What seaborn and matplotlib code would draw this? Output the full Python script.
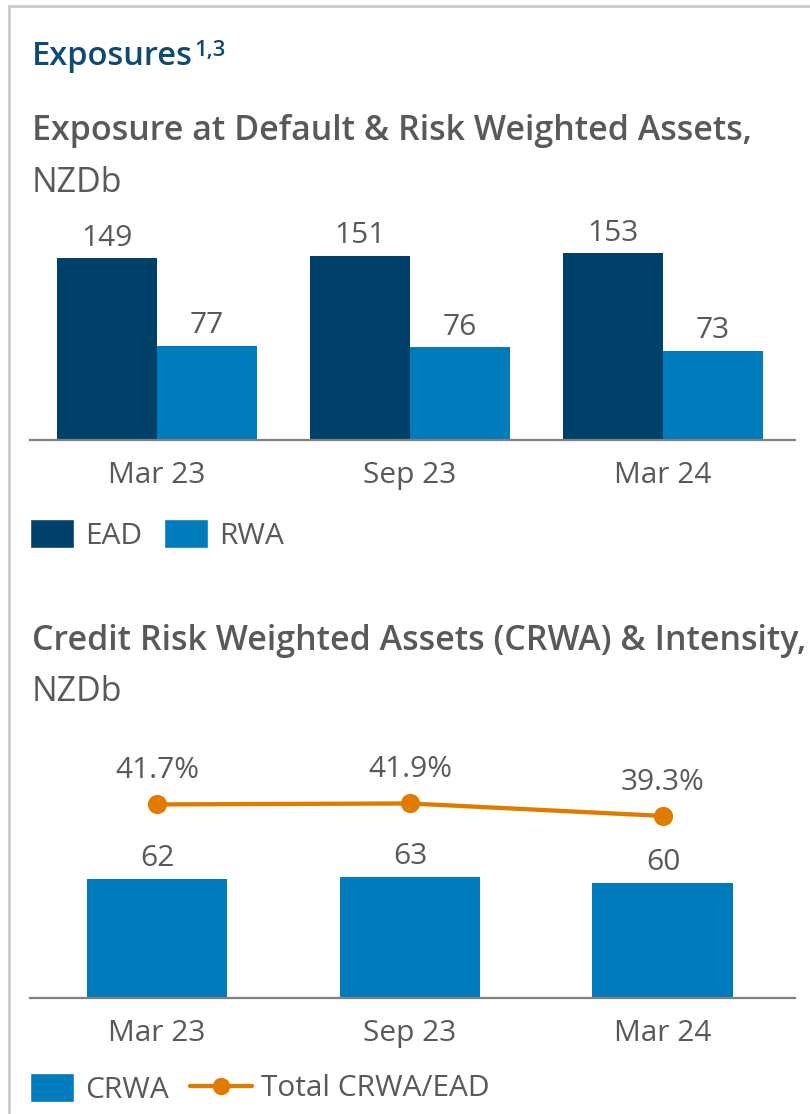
import matplotlib
matplotlib.use("Agg")
import matplotlib.pyplot as plt
import seaborn as sns
import pandas as pd
from matplotlib.patches import Patch, Rectangle
from matplotlib.lines import Line2D

# ---- data (NZD billions) ----
periods = ["Mar 23", "Sep 23", "Mar 24"]
ead = [149, 151, 153]
rwa = [77, 76, 73]
crwa = [62, 63, 60]
intensity = [41.7, 41.9, 39.3]   # Total CRWA / EAD, %

# ---- styling ----
NAVY = "#00416a"
BLUE = "#007bbb"
ORANGE = "#e07b00"
GREY_TXT = "#595959"
TITLE_BLUE = "#0f4a70"
AXIS_GREY = "#808080"
FS = 21.5
FS_SUB = 24.5

W, H = 810, 1114
sns.set_theme(style="white")
plt.rcParams["font.family"] = ["Open Sans", "DejaVu Sans"]

fig = plt.figure(figsize=(W / 100, H / 100), dpi=100)


def fx(px):
    return px / W


def fy(py):
    return 1 - py / H


# card frame
fig.add_artist(Rectangle((fx(8.5), fy(H + 20)), 2, fy(5.5) - fy(H + 20),
                         transform=fig.transFigure, fill=False,
                         edgecolor="#c9c9c9", lw=2))

# ---- headings ----
t = fig.text(fx(32), fy(65), "Exposures", fontsize=23.5, fontweight="semibold",
             color=TITLE_BLUE, va="baseline")
r = fig.canvas.get_renderer()
bb = t.get_window_extent(renderer=r)
fig.text(bb.x1 / W + 0.002, fy(56), "1,3", fontsize=16, fontweight="semibold",
         color=TITLE_BLUE, va="baseline")

fig.text(fx(32), fy(140), "Exposure at Default & Risk Weighted Assets,",
         fontsize=FS_SUB, fontweight="semibold", color=GREY_TXT, va="baseline")
fig.text(fx(32), fy(192), "NZDb", fontsize=FS_SUB, color=GREY_TXT, va="baseline")

fig.text(fx(32), fy(650), "Credit Risk Weighted Assets (CRWA) & Intensity,",
         fontsize=FS_SUB, fontweight="semibold", color=GREY_TXT, va="baseline")
fig.text(fx(32), fy(701), "NZDb", fontsize=FS_SUB, color=GREY_TXT, va="baseline")


def style_axis(ax):
    for s in ("top", "right", "left"):
        ax.spines[s].set_visible(False)
    ax.spines["bottom"].set_color(AXIS_GREY)
    ax.spines["bottom"].set_linewidth(1.6)
    ax.set_yticks([])
    ax.set_xlabel("")
    ax.set_ylabel("")
    ax.tick_params(axis="x", length=0, pad=15, labelsize=FS, labelcolor=GREY_TXT)
    ax.set_facecolor("none")


XLIM = (-0.502, 2.522)

# ---- chart 1: EAD & RWA ----
k1, top1 = 1.221, 180
ax1 = fig.add_axes([fx(30), fy(440), fx(795) - fx(30), top1 * k1 / H])
df1 = pd.DataFrame({
    "period": periods * 2,
    "series": ["EAD"] * len(periods) + ["RWA"] * len(periods),
    "value": ead + rwa,
})
sns.barplot(data=df1, x="period", y="value", hue="series",
            palette=[NAVY, BLUE], width=0.79, saturation=1, linewidth=0,
            errorbar=None, legend=False, ax=ax1)
ax1.set_xlim(*XLIM)
ax1.set_ylim(0, top1)
style_axis(ax1)
for c in ax1.containers:
    ax1.bar_label(c, fmt="%d", padding=4, fontsize=FS, color=GREY_TXT)

ax1.legend(handles=[Patch(facecolor=NAVY), Patch(facecolor=BLUE)],
           labels=["EAD", "RWA"], loc="center left",
           bbox_to_anchor=(fx(30), fy(535)), bbox_transform=fig.transFigure,
           ncol=2, frameon=False, handlelength=1.47, handleheight=1.1,
           handletextpad=0.36, columnspacing=0.75, borderpad=0,
           borderaxespad=0, fontsize=FS, labelcolor=GREY_TXT)

# ---- chart 2: CRWA & intensity ----
k2, top2 = 1.92, 134.4
ax2 = fig.add_axes([fx(30), fy(998), fx(795) - fx(30), top2 * k2 / H])
sns.barplot(x=periods, y=crwa, color=BLUE, width=0.557, saturation=1,
            linewidth=0, errorbar=None, ax=ax2)
ax2.set_ylim(0, top2)
style_axis(ax2)
for c in ax2.containers:
    ax2.bar_label(c, fmt="%d", padding=4, fontsize=FS, color=GREY_TXT)

ax3 = ax2.twinx()
sns.pointplot(x=periods, y=intensity, color=ORANGE, markers="o",
              markersize=11.5, linewidth=3.1, errorbar=None, ax=ax3)
ax3.set_ylim(1.38, 55.13)
ax3.set_yticks([])
ax3.set_ylabel("")
for s in ax3.spines.values():
    s.set_visible(False)
for i, v in enumerate(intensity):
    ax3.annotate(f"{v:.1f}%", (i, v), xytext=(0, 19), textcoords="offset points",
                 ha="center", va="baseline", fontsize=FS, color=GREY_TXT)
ax2.set_xlim(*XLIM)
ax3.set_xlim(*XLIM)

leg_a = ax3.legend(handles=[Patch(facecolor=BLUE)], labels=["CRWA"],
                   loc="center left", bbox_to_anchor=(fx(30), fy(1089)),
                   bbox_transform=fig.transFigure, frameon=False,
                   handlelength=1.47, handleheight=1.1, handletextpad=0.36,
                   borderpad=0, borderaxespad=0, fontsize=FS,
                   labelcolor=GREY_TXT)
ax3.add_artist(leg_a)
ax3.legend(handles=[Line2D([], [], color=ORANGE, lw=3.1, marker="o", markersize=11.5)],
           labels=["Total CRWA/EAD"], loc="center left",
           bbox_to_anchor=(fx(190), fy(1089)), bbox_transform=fig.transFigure,
           frameon=False, handlelength=2.07, handletextpad=0.3, borderpad=0,
           borderaxespad=0, fontsize=FS, labelcolor=GREY_TXT)

fig.savefig("out.png", dpi=100)
